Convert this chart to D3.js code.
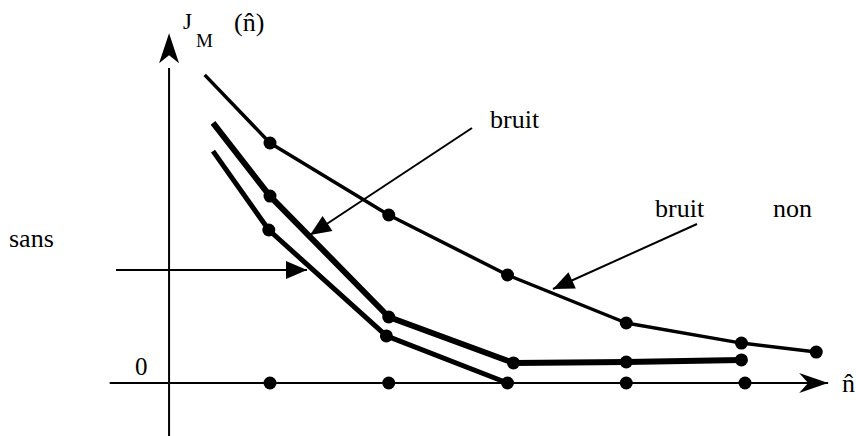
<!DOCTYPE html>
<html>
<head>
<meta charset="utf-8">
<script src="https://cdn.jsdelivr.net/npm/d3@7/dist/d3.min.js"></script>
</head>
<body style="margin:0">
<svg id="chart" width="856" height="436"></svg>
<script>
// Criterion J_M(n̂) against model order n̂ for three noise cases
const axisTicks = [1, 2, 3, 4, 5];

const upperN = [0.45, 1, 2, 3, 4, 4.97, 5.6];
const upperJ = [10.27, 8.0, 5.6, 3.6, 2.0, 1.33, 1.03];
const upperDots = [1, 2, 3, 4, 5, 6];

const middleN = [0.52, 1, 2, 3.05, 4, 4.97];
const middleJ = [8.67, 6.23, 2.2, 0.67, 0.7, 0.77];
const middleDots = [1, 2, 3, 4, 5];

const lowerN = [0.52, 0.99, 1.98, 3.0];
const lowerJ = [7.73, 5.1, 1.57, 0];
const lowerDots = [1, 2];

const labels = ["bruit", "bruit", "non", "sans"];

const svg = d3.select("#chart");
const x = d3.scaleLinear().domain([1, 5]).range([270, 745]);
const y = d3.scaleLinear().domain([0, 10]).range([383, 83]);

const x0 = x(0.15);           // vertical axis position
const y0 = y(0);              // horizontal axis position

// axes
svg.append("line").attr("x1", x(-0.35)).attr("x2", x(5.7)).attr("y1", y0).attr("y2", y0)
  .attr("stroke", "#000").attr("stroke-width", 2);
svg.append("line").attr("x1", x0).attr("x2", x0).attr("y1", 436).attr("y2", y(10.5))
  .attr("stroke", "#000").attr("stroke-width", 2);

// axis arrowheads (notched)
const tipX = x(5.7);
svg.append("path")
  .attr("d", `M${tipX},${y0} L${tipX - 29},${y0 - 10} L${tipX - 20},${y0} L${tipX - 29},${y0 + 10} Z`)
  .attr("fill", "#000");
const tipY = y(11.66);
svg.append("path")
  .attr("d", `M${x0},${tipY} L${x0 - 10},${tipY + 30} L${x0},${tipY + 22} L${x0 + 10},${tipY + 30} Z`)
  .attr("fill", "#000");

// series lines
const line = d3.line().x(d => x(d[0])).y(d => y(d[1]));
function series(ns, js, width, dotIdx) {
  const pts = ns.map((n, i) => [n, js[i]]);
  svg.append("path").datum(pts).attr("d", line)
    .attr("fill", "none").attr("stroke", "#000").attr("stroke-width", width)
    .attr("stroke-linejoin", "round");
  svg.selectAll(null).data(dotIdx.map(i => pts[i])).enter().append("circle")
    .attr("cx", d => x(d[0])).attr("cy", d => y(d[1])).attr("r", 6.5).attr("fill", "#000");
}
series(upperN, upperJ, 3.5, upperDots);
series(middleN, middleJ, 6, middleDots);
series(lowerN, lowerJ, 5, lowerDots);

// dots on the n̂ axis
svg.selectAll(null).data(axisTicks).enter().append("circle")
  .attr("cx", d => x(d)).attr("cy", y0).attr("r", 6.5).attr("fill", "#000");

// annotation arrows
function arrow(x1, y1, x2, y2) {
  svg.append("line").attr("x1", x1).attr("y1", y1).attr("x2", x2).attr("y2", y2)
    .attr("stroke", "#000").attr("stroke-width", 2);
  const a = Math.atan2(y2 - y1, x2 - x1), L = 21, W = 9;
  const bx = x2 - L * Math.cos(a), by = y2 - L * Math.sin(a);
  const px = -Math.sin(a) * W, py = Math.cos(a) * W;
  svg.append("path")
    .attr("d", `M${x2},${y2} L${bx + px},${by + py} L${bx - px},${by - py} Z`)
    .attr("fill", "#000");
}
arrow(472, 128, 310, 235);
arrow(116, 270, 307, 270);
arrow(697, 224, 553, 289);

// text labels, Times-style serif face
const textItems = [
  { s: "J", tx: 183, ty: 29, size: 23 },
  { s: "M", tx: 196, ty: 47, size: 19 },
  { s: "(n\u0302)", tx: 234, ty: 31, size: 26 },
  { s: "0", tx: 135, ty: 375, size: 25 },
  { s: labels[3], tx: 9, ty: 247, size: 26 },
  { s: labels[0], tx: 490, ty: 128, size: 26 },
  { s: labels[1], tx: 655, ty: 217, size: 26 },
  { s: labels[2], tx: 773, ty: 217, size: 26 },
  { s: "n\u0302", tx: 842, ty: 392, size: 26 }
];
svg.selectAll("text.lbl").data(textItems).enter().append("text")
  .attr("class", "lbl")
  .attr("x", d => d.tx).attr("y", d => d.ty)
  .style("font-family", '"Liberation Serif"')
  .attr("font-size", d => d.size)
  .text(d => d.s);
</script>
</body>
</html>
